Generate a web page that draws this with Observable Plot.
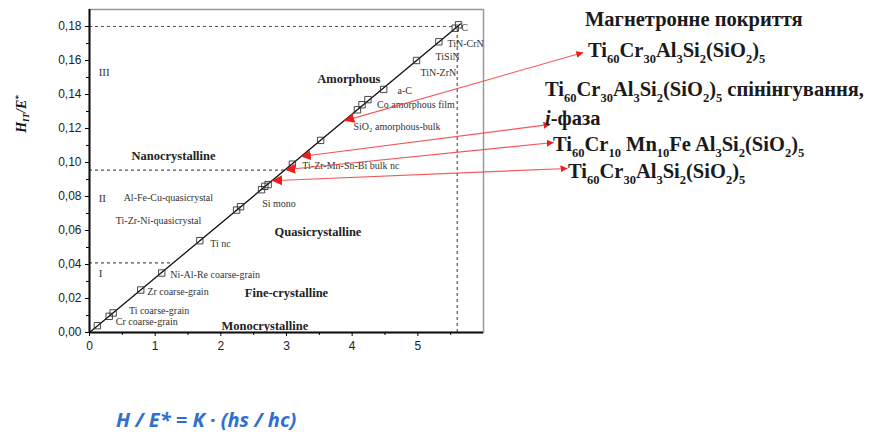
<!DOCTYPE html>
<html>
<head>
<meta charset="utf-8">
<script src="https://cdn.jsdelivr.net/npm/d3@7"></script>
<script src="https://cdn.jsdelivr.net/npm/@observablehq/plot@0.6"></script>
<style>
  body { margin: 0; background: #fff; }
  #wrap { position: relative; width: 875px; height: 435px; overflow: hidden; }
  .ann { position: absolute; font-family: "Liberation Serif", serif; font-weight: bold; font-size: 20.5px; color: #1a1a1a; white-space: nowrap; line-height: 1; }
  .ann sub { font-size: 12.5px; vertical-align: -6px; line-height: 0; }
  #caption { position: absolute; left: 116px; top: 406px; font-family: "Open Sans", sans-serif; font-style: italic; font-weight: bold; font-size: 20px; line-height: 27px; color: #2f6fd0; white-space: nowrap; }
</style>
</head>
<body>
<div id="wrap"></div>
<script>
// Samples along the H/E* vs hs/hc line (x = hs/hc, y = H/E*)
const sampleX = [0.12, 0.30, 0.36, 0.78, 1.10, 1.68, 2.24, 2.30, 2.62, 2.67, 2.72, 3.09, 3.52, 4.08, 4.15, 4.24, 4.48, 4.98, 5.32, 5.57, 5.62];
const sampleY = [0.004, 0.0095, 0.0115, 0.025, 0.035, 0.054, 0.072, 0.074, 0.084, 0.086, 0.087, 0.099, 0.113, 0.131, 0.134, 0.137, 0.143, 0.160, 0.171, 0.179, 0.181];

// Fitted line
const fitX = [0, 5.65];
const fitY = [0, 0.1815];

// Material labels
const labelNames = ["Cr coarse-grain", "Ti coarse-grain", "Zr coarse-grain", "Ni-Al-Re coarse-grain", "Ti nc", "Si mono", "Ti-Zr-Mn-Sn-Bi bulk nc", "SiO₂ amorphous-bulk", "Co amorphous film", "a-C", "TiN-ZrN", "TiSiN", "TiN-CrN", "C", "Al-Fe-Cu-quasicrystal", "Ti-Zr-Ni-quasicrystal"];
const labelX = [0.40, 0.60, 0.88, 1.23, 1.84, 2.63, 3.24, 4.02, 4.38, 4.69, 5.04, 5.27, 5.45, 5.66, 0.52, 0.40];
const labelY = [0.0065, 0.0128, 0.024, 0.034, 0.052, 0.076, 0.098, 0.121, 0.134, 0.142, 0.153, 0.162, 0.170, 0.179, 0.079, 0.066];

// Structure regions
const regionNames = ["Nanocrystalline", "Amorphous", "Quasicrystalline", "Fine-crystalline", "Monocrystalline"];
const regionX = [1.28, 3.95, 3.48, 3.0, 2.67];
const regionY = [0.104, 0.149, 0.059, 0.023, 0.004];

// Zones I, II, III
const zoneNames = ["III", "II", "I"];
const zoneX = [0.14, 0.14, 0.14];
const zoneY = [0.153, 0.079, 0.035];

// Dashed boundaries
const hBoundY = [0.18, 0.0955, 0.041];
const hBoundX2 = [5.6, 3.1, 1.28];
const vBoundX = [5.6];
const vBoundY2 = [0.18];

// Red arrows: point on line -> annotation
const arrowFromX = [3.88, 3.22, 2.98, 2.78];
const arrowFromY = [0.1245, 0.1035, 0.0957, 0.0893];
const arrowToX = [7.52, 7.02, 7.07, 7.28];
const arrowToY = [0.1647, 0.1224, 0.1118, 0.0965];

// Ticks
const xTicks = [0, 1, 2, 3, 4, 5];
const xMinor = [0.5, 1.5, 2.5, 3.5, 4.5, 5.5];
const yTicks = [0, 0.02, 0.04, 0.06, 0.08, 0.10, 0.12, 0.14, 0.16, 0.18];
const yMinor = [0.01, 0.03, 0.05, 0.07, 0.09, 0.11, 0.13, 0.15, 0.17];

const samples = sampleX.map((x, i) => ({x, y: sampleY[i]}));
const fit = fitX.map((x, i) => ({x, y: fitY[i]}));
const labels = labelNames.map((t, i) => ({t, x: labelX[i], y: labelY[i]}));
const regions = regionNames.map((t, i) => ({t, x: regionX[i], y: regionY[i]}));
const zones = zoneNames.map((t, i) => ({t, x: zoneX[i], y: zoneY[i]}));
const hBounds = hBoundY.map((y, i) => ({y, x2: hBoundX2[i]}));
const vBounds = vBoundX.map((x, i) => ({x, y2: vBoundY2[i]}));
const arrows = arrowFromX.map((x1, i) => ({x1, y1: arrowFromY[i], x2: arrowToX[i], y2: arrowToY[i]}));

const fmt = d => d.toFixed(2).replace(".", ",");

const plot = Plot.plot({
  width: 875,
  height: 365,
  marginLeft: 89,
  marginRight: 392,
  marginTop: 9,
  marginBottom: 33,
  style: {fontFamily: "Liberation Sans, Arial, sans-serif", background: "transparent"},
  x: {domain: [0, 6]},
  y: {domain: [0, 0.19]},
  marks: [
    Plot.frame({stroke: "#999", strokeWidth: 1.5}),
    Plot.ruleY(hBounds, {y: "y", x1: 0, x2: "x2", stroke: "#555", strokeWidth: 1.2, strokeDasharray: "3,3"}),
    Plot.ruleX(vBounds, {x: "x", y1: 0, y2: "y2", stroke: "#555", strokeWidth: 1.2, strokeDasharray: "3,3"}),
    Plot.line(fit, {x: "x", y: "y", stroke: "#111", strokeWidth: 1.3}),
    Plot.dot(samples, {x: "x", y: "y", symbol: "square", r: 3.6, stroke: "#333", strokeWidth: 0.9, fill: "none"}),
    Plot.text(labels, {x: "x", y: "y", text: "t", textAnchor: "start", fontFamily: "Liberation Serif, serif", fontSize: 10, fill: "#333"}),
    Plot.text(regions, {x: "x", y: "y", text: "t", fontFamily: "Liberation Serif, serif", fontSize: 12.5, fontWeight: "bold", fill: "#222"}),
    Plot.text(zones, {x: "x", y: "y", text: "t", textAnchor: "start", fontFamily: "Liberation Serif, serif", fontSize: 11, fill: "#333"}),
    Plot.link(arrows, {x1: "x1", y1: "y1", x2: "x2", y2: "y2", stroke: "#f23a3a", strokeWidth: 1.1, strokeOpacity: 0.85, ariaLabel: "redarrows"}),
    Plot.ruleX([0], {stroke: "#111", strokeWidth: 2}),
    Plot.ruleY([0], {stroke: "#111", strokeWidth: 2}),
    Plot.axisX(xTicks, {tickSize: 4, tickPadding: 5, fontSize: 12, fill: "#222", label: null, tickFormat: d => String(d)}),
    Plot.axisX(xMinor, {tickSize: 3, tickFormat: () => "", label: null}),
    Plot.axisY(yTicks, {tickSize: 4, tickPadding: 4, fontSize: 12, fill: "#222", label: null, tickFormat: fmt}),
    Plot.axisY(yMinor, {tickSize: 3, tickFormat: () => "", label: null})
  ]
});

const svg = d3.select(plot);
const defs = svg.append("defs");
function mk(id, size) {
  defs.append("marker")
    .attr("id", id).attr("viewBox", "0 0 10 10").attr("refX", 10).attr("refY", 5)
    .attr("markerWidth", size).attr("markerHeight", size)
    .attr("markerUnits", "userSpaceOnUse").attr("orient", "auto-start-reverse")
    .append("path").attr("d", "M0,0L10,5L0,10z").attr("fill", "#f01c1c");
}
mk("triS", 10);
mk("triE", 7);
svg.selectAll('g[aria-label="redarrows"] path, g[aria-label="link"] path')
  .attr("marker-start", "url(#triS)").attr("marker-end", "url(#triE)");

// y-axis label H_IT / E*
const yl = svg.append("text")
  .attr("transform", "translate(26,114) rotate(-90)")
  .attr("text-anchor", "middle")
  .attr("font-family", "Liberation Serif, serif")
  .attr("font-weight", "bold").attr("font-style", "italic").attr("font-size", 14).attr("fill", "#111");
yl.append("tspan").text("H");
yl.append("tspan").attr("font-size", 9).attr("dy", 3).text("IT");
yl.append("tspan").attr("dy", -3).text("/E");
yl.append("tspan").attr("font-size", 9).attr("dy", -5).text("*");

const wrap = document.getElementById("wrap");
wrap.appendChild(plot);

const anns = [
  {left: 585, top: 9, html: "Магнетронне покриття"},
  {left: 588, top: 40, html: "Ti<sub>60</sub>Cr<sub>30</sub>Al<sub>3</sub>Si<sub>2</sub>(SiO<sub>2</sub>)<sub>5</sub>"},
  {left: 545, top: 79, html: "Ti<sub>60</sub>Cr<sub>30</sub>Al<sub>3</sub>Si<sub>2</sub>(SiO<sub>2</sub>)<sub>5</sub> спінінгування,"},
  {left: 545, top: 108, html: "<i>і</i>-фаза"},
  {left: 553, top: 134, html: "Ti<sub>60</sub>Cr<sub>10</sub> Mn<sub>10</sub>Fe Al<sub>3</sub>Si<sub>2</sub>(SiO<sub>2</sub>)<sub>5</sub>"},
  {left: 568, top: 161, html: "Ti<sub>60</sub>Cr<sub>30</sub>Al<sub>3</sub>Si<sub>2</sub>(SiO<sub>2</sub>)<sub>5</sub>"}
];
for (const a of anns) {
  const d = document.createElement("div");
  d.className = "ann";
  d.style.left = a.left + "px";
  d.style.top = a.top + "px";
  d.innerHTML = a.html;
  wrap.appendChild(d);
}
const cap = document.createElement("div");
cap.id = "caption";
cap.textContent = "H / E* = K · (hs / hc)";
wrap.appendChild(cap);
</script>
</body>
</html>
